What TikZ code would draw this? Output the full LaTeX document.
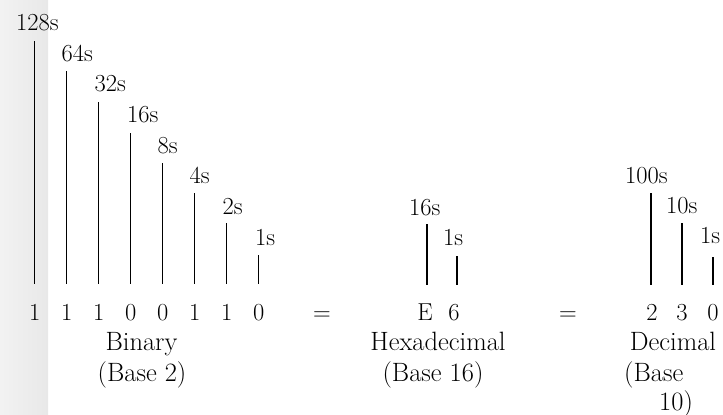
\documentclass[tikz,border=0pt]{standalone}
\begin{document}
\begin{tikzpicture}[x=1pt,y=-1pt,
  txt/.style={inner sep=0pt,font=\fontsize{24.5}{30}\selectfont},
  wtxt/.style={inner sep=0pt,font=\fontsize{26.5}{30}\selectfont},
  lab/.style={txt,anchor=base west},
  dig/.style={txt,anchor=base},
  word/.style={wtxt,anchor=base},
  wordw/.style={wtxt,anchor=base west},
  stem/.style={line width=1.1pt,black}]
\useasboundingbox (0,0) rectangle (723,415);
\fill[left color=black!5,right color=black!9] (0,0) rectangle (48,415);
% ---------- Binary ----------
\node[lab] (l128) at (16,30) {128s};
\node[lab] (l64) at (61.5,61) {64s};
\node[lab] (l32) at (94.5,91) {32s};
\node[lab] (l16) at (127,122) {16s};
\node[lab] (l8) at (157.5,153) {8s};
\node[lab] (l4) at (189.5,183) {4s};
\node[lab] (l2) at (222.5,214) {2s};
\node[lab] (l1) at (255,245) {1s};
\foreach \n/\x/\t/\d in {a/34.7/41/1,b/66.7/71/1,c/98.7/102/1,d/130.7/133/0,e/162.7/163/0,f/194.7/193/1,g/226.7/223/1,h/258.7/255/0}{
  \coordinate (bt\n) at (\x,\t);
  \coordinate (bb\n) at (\x,284);
  \draw[stem] (bt\n) -- (bb\n);
  \node[dig] (bd\n) at (\x,320) {\d};
}
\node[word] (binname) at (141.5,350) {Binary};
\node[word] (binbase) at (142,381) {(Base 2)};
\node[dig] (eq1) at (322,320) {=};
% ---------- Hexadecimal ----------
\node[lab] (h16) at (409,215) {16s};
\node[lab] (h1) at (443,245) {1s};
\coordinate (hta) at (427,224);
\coordinate (hba) at (427,285);
\coordinate (htb) at (457,256);
\coordinate (hbb) at (457,285);
\draw[stem] (hta) -- (hba);
\draw[stem] (htb) -- (hbb);
\node[dig] (hdE) at (425,320) {E};
\node[dig] (hd6) at (454,320) {6};
\node[word] (hexname) at (438,350) {Hexadecimal};
\node[word] (hexbase) at (433,381) {(Base 16)};
\node[dig] (eq2) at (568,320) {=};
% ---------- Decimal ----------
\node[lab] (d100) at (625,183) {100s};
\node[lab] (d10) at (666,213) {10s};
\node[lab] (d1) at (700,243) {1s};
\coordinate (dta) at (651,193);
\coordinate (dba) at (651,285);
\coordinate (dtb) at (682,223);
\coordinate (dbb) at (682,285);
\coordinate (dtc) at (713,257);
\coordinate (dbc) at (713,285);
\draw[stem] (dta) -- (dba);
\draw[stem] (dtb) -- (dbb);
\draw[stem] (dtc) -- (dbc);
\node[dig] (dd2) at (652,320) {2};
\node[dig] (dd3) at (682,320) {3};
\node[dig] (dd0) at (713,320) {0};
\node[word] (decname) at (673,350) {Decimal};
\node[wordw] (decbase1) at (624,381) {(Base};
\node[wordw] (decbase2) at (659,410) {10)};
\end{tikzpicture}
\end{document}
